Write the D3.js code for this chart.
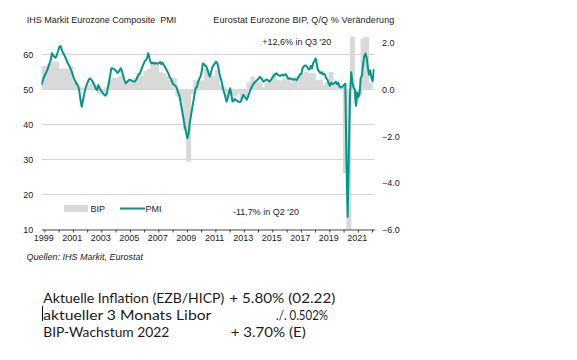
<!DOCTYPE html>
<html><head><meta charset="utf-8">
<script src="https://cdn.jsdelivr.net/npm/d3@7"></script>
<style>body{margin:0;background:#fff}svg{display:block}</style>
</head><body>
<svg id="c" width="577" height="360"></svg>
<script>
// ---------- data ----------
const pmiStart = [1998, 10]; // first monthly value: Oct 1998
const pmiValues = [
  51.2, 52.3, 53.3,
  54.1, 54.8, 55.5, 56.5, 57.5, 58.5, 60.3, 59.6, 59.3, 59.0, 59.8, 60.8,
  62.0, 62.4, 61.5, 60.6, 60.0, 59.3, 58.5, 57.6, 57.0, 56.4, 55.5, 54.6,
  53.5, 52.7, 52.0, 51.4, 51.0, 49.5, 47.0, 45.0, 46.8, 48.5, 50.0, 51.2,
  52.0, 52.8, 53.1, 52.8, 52.3, 51.7, 51.0, 50.0, 49.8, 51.2, 50.4, 49.8,
  49.3, 48.8, 48.4, 48.2, 48.6, 50.3, 52.0, 54.0, 56.0, 56.0, 55.8, 55.6,
  55.2, 54.7, 54.9, 55.6, 56.0, 55.0, 53.8, 52.5, 51.7, 52.0, 52.4, 52.7,
  52.7, 52.5, 52.3, 52.2, 52.3, 52.8, 53.5, 54.2, 54.6, 55.5, 56.3, 57.2,
  58.0, 58.4, 58.8, 60.3, 59.0, 57.8, 57.4, 57.6, 57.3, 57.5, 57.4, 57.3,
  57.5, 57.8, 57.2, 57.6, 57.0, 56.5, 55.8, 55.2, 54.5, 53.6, 53.1, 52.3,
  51.5, 51.2, 51.0, 50.5, 49.3, 48.5, 47.0, 45.0, 43.0, 41.0, 39.0, 37.5,
  36.0, 37.5, 40.3, 42.5, 44.5, 46.5, 48.5, 50.3, 50.7, 52.0, 53.0, 53.6,
  55.0, 57.4, 57.2, 56.8, 56.5, 55.5, 54.3, 53.6, 55.0, 56.2, 56.9, 57.3,
  57.9, 57.6, 56.5, 54.6, 53.2, 52.0, 50.3, 49.0, 47.8, 46.5, 47.5, 49.0,
  50.3, 48.5, 46.5, 46.8, 47.2, 46.9, 46.7, 46.5, 46.3, 46.5, 47.5, 48.4,
  48.0, 47.5, 47.0, 47.8, 48.8, 49.8, 50.5, 51.2, 51.7, 52.0, 52.4, 52.7,
  53.0, 53.6, 53.2, 52.8, 52.2, 52.4, 52.7, 52.8, 52.5, 52.2, 52.5, 53.0,
  53.6, 54.0, 54.3, 54.6, 54.2, 54.0, 53.8, 54.0, 54.1, 53.9, 54.2, 54.3,
  53.6, 53.0, 53.1, 53.1, 52.9, 52.7, 52.9, 52.9, 52.6, 53.3, 53.6, 54.4,
  54.4, 56.0, 56.5, 56.8, 56.8, 56.3, 55.7, 55.7, 56.7, 56.0, 57.5, 58.1,
  58.8, 57.1, 55.5, 55.1, 54.6, 54.9, 54.3, 54.5, 54.1, 53.1, 52.7, 51.7,
  51.0, 51.9, 51.6, 51.5, 51.8, 52.2, 51.5, 51.9, 50.8, 50.6, 50.6, 50.9,
  51.3, 51.6, 29.7, 13.6, 31.9, 48.5, 54.9, 51.9, 50.4, 50.0, 45.3, 49.1,
  47.8, 48.8, 53.2, 53.8, 57.1, 59.5, 60.2, 59.0, 56.2, 54.2, 55.4, 53.3,
  52.3, 55.5, 54.9
];
const gdpStart = [1998, 4]; // first quarterly value: Q4 1998
const gdpValues = [
  1.0,
  1.0, 1.1, 1.2, 1.2,
  0.9, 0.9, 0.9, 1.0,
  0.3, 0.1, 0.1, 0.0,
  0.2, 0.3, 0.2, -0.2,
  -0.2, 0.1, 0.4, 0.5,
  0.5, 0.6, 0.3, 0.4,
  0.3, 0.5, 0.7, 0.6,
  0.8, 0.9, 1.2, 1.2,
  0.75, 0.7, 0.6, 0.4,
  0.5, -0.3, -0.5, -1.7,
  -3.1, -0.2, 0.4, 0.4,
  0.4, 0.9, 0.5, 0.6,
  0.85, 0.2, 0.1, -0.3,
  -0.2, -0.3, -0.2, -0.4,
  -0.3, 0.3, 0.55, 0.3,
  0.3, 0.1, 0.3, 0.4,
  0.7, 0.4, 0.4, 0.5,
  0.5, 0.3, 0.4, 0.6,
  0.7, 0.75, 0.7, 0.7,
  0.4, 0.4, 0.2, 0.3,
  0.75, 0.2, 0.3, 0.1,
  -3.6, -11.7, 12.6, -0.6,
  -0.3, 2.2, 2.3, 0.3
];
const leftTicks = [10, 20, 30, 40, 50, 60];
const rightTicks = [-6, -4, -2, 0, 2];
const xTickYears = d3.range(1999, 2023);
const xLabelYears = [1999, 2001, 2003, 2005, 2007, 2009, 2011, 2013, 2015, 2017, 2019, 2021];
const titleLeft = "IHS Markit Eurozone Composite\u00a0 PMI";
const titleRight = "Eurostat Eurozone BIP, Q/Q % Veränderung";
const noteTop = "+12,6% in Q3 '20";
const noteBottom = "-11,7% in Q2 '20";
const sourceText = "Quellen: IHS Markit, Eurostat";
const legendLabels = ["BIP", "PMI"];
const infoLabels = ["Aktuelle Inflation (EZB/HICP)", "aktueller 3 Monats Libor", "BIP-Wachstum 2022"];
const infoValues = ["+ 5.80% (02.22)", "./. 0.502%", "+ 3.70% (E)"];

// ---------- build ----------
const pmi = pmiValues.map((v, i) => ({
  date: new Date(pmiStart[0], pmiStart[1] - 1 + i, 15), v }));
const gdp = gdpValues.map((v, i) => ({
  date: new Date(gdpStart[0], (gdpStart[1] - 1 + i) * 3 + 1, 15), v }));

const svg = d3.select("#c");
const L = 41.5, R = 374.5, T = 36.8, B = 229.3;
const font = "'Liberation Sans', Arial, sans-serif";
const txt = "#222";

const x = d3.scaleTime()
  .domain([new Date(1998, 9, 19), new Date(2022, 2, 4)])
  .range([L, R]);
const yL = d3.scaleLinear().domain([10, 65]).range([B, T]);
const yR = d3.scaleLinear().domain([-6, 2]).range([B, yL(10) - 8 * 23.29]);

svg.append("defs").append("clipPath").attr("id", "plot")
  .append("rect").attr("x", L).attr("y", T).attr("width", R - L).attr("height", B - T);

// gridlines
svg.append("g").selectAll("line").data(leftTicks.filter(d => d > 10)).join("line")
  .attr("x1", L).attr("x2", R)
  .attr("y1", d => Math.round(yL(d)) + 0.5).attr("y2", d => Math.round(yL(d)) + 0.5)
  .attr("stroke", "#d4d4d4").attr("stroke-width", 1);

// bars
const bw = 5;
svg.append("g").attr("clip-path", "url(#plot)").selectAll("rect").data(gdp).join("rect")
  .attr("x", d => x(d.date) - bw / 2)
  .attr("width", bw)
  .attr("y", d => Math.min(yR(d.v), yR(0)))
  .attr("height", d => Math.abs(yR(d.v) - yR(0)))
  .attr("fill", "#d9d9d9");

// PMI line
svg.append("path").datum(pmi)
  .attr("clip-path", "url(#plot)")
  .attr("fill", "none").attr("stroke", "#00968a").attr("stroke-width", 2)
  .attr("stroke-linejoin", "round")
  .attr("d", d3.line().x(d => x(d.date)).y(d => yL(d.v)));

// x axis
const xa = svg.append("g").attr("transform", `translate(0,${Math.round(B) + 0.5})`)
  .call(d3.axisBottom(x)
    .tickValues(xTickYears.map(y => new Date(y, 0, 1)))
    .tickSize(3).tickSizeOuter(0).tickPadding(2)
    .tickFormat(d => xLabelYears.includes(d.getFullYear()) ? String(d.getFullYear()) : ""));
xa.select(".domain").attr("stroke", "#444");
xa.selectAll(".tick line").attr("stroke", "#444");
xa.selectAll(".tick text").attr("font-family", font).attr("font-size", 9).attr("fill", txt)
  .attr("dx", -1.2);

// left axis
const la = svg.append("g").attr("transform", `translate(${L},0)`)
  .call(d3.axisLeft(yL).tickValues(leftTicks).tickSize(0).tickPadding(8.2));
la.select(".domain").remove();
la.selectAll("text").attr("font-family", font).attr("font-size", 9).attr("fill", txt);

// right axis
const ra = svg.append("g").attr("transform", `translate(${R},0)`)
  .call(d3.axisRight(yR).tickValues(rightTicks).tickSize(0).tickPadding(7.5)
    .tickFormat(d3.format(".1f")));
ra.select(".domain").remove();
ra.selectAll("text").attr("font-family", font).attr("font-size", 9).attr("fill", txt);

// titles & notes
const t9 = (s, xx, yy, extra) => {
  const e = svg.append("text").attr("x", xx).attr("y", yy).text(s)
    .attr("font-family", font).attr("font-size", 9).attr("fill", txt);
  if (extra) extra(e);
  return e;
};
t9(titleLeft, 26.7, 22.8);
t9(titleRight, 213.3, 22.8, e => e.attr("textLength", 181));
t9(noteTop, 262.3, 45.3);
t9(noteBottom, 233, 214.5);
t9(sourceText, 26.5, 259.5, e => e.attr("font-style", "italic"));

// legend
svg.append("rect").attr("x", 64).attr("y", 205).attr("width", 24).attr("height", 7).attr("fill", "#d9d9d9");
t9(legendLabels[0], 90.5, 212);
svg.append("line").attr("x1", 120).attr("x2", 145).attr("y1", 208.5).attr("y2", 208.5)
  .attr("stroke", "#00968a").attr("stroke-width", 2);
t9(legendLabels[1], 145.5, 212);

// info block
const info = svg.append("g").attr("font-family", "Lato, 'Open Sans', sans-serif")
  .attr("font-size", 14).attr("fill", "#1a1a1a");
const rowY = [302.7, 319.6, 336.5];
const labelW = [181, 168, 126];
const valX = [229.3, 276, 230.7];
const valW = [106, 52, 75];
infoLabels.forEach((s, i) => {
  info.append("text").attr("x", 43.3).attr("y", rowY[i]).text(s)
    .attr("textLength", labelW[i]).attr("lengthAdjust", "spacingAndGlyphs");
  info.append("text").attr("x", valX[i]).attr("y", rowY[i]).text(infoValues[i])
    .attr("textLength", valW[i]).attr("lengthAdjust", "spacingAndGlyphs");
});
// text cursor
svg.append("line").attr("x1", 42.5).attr("x2", 42.5).attr("y1", 306).attr("y2", 321)
  .attr("stroke", "#000").attr("stroke-width", 1);
</script>
</body></html>
